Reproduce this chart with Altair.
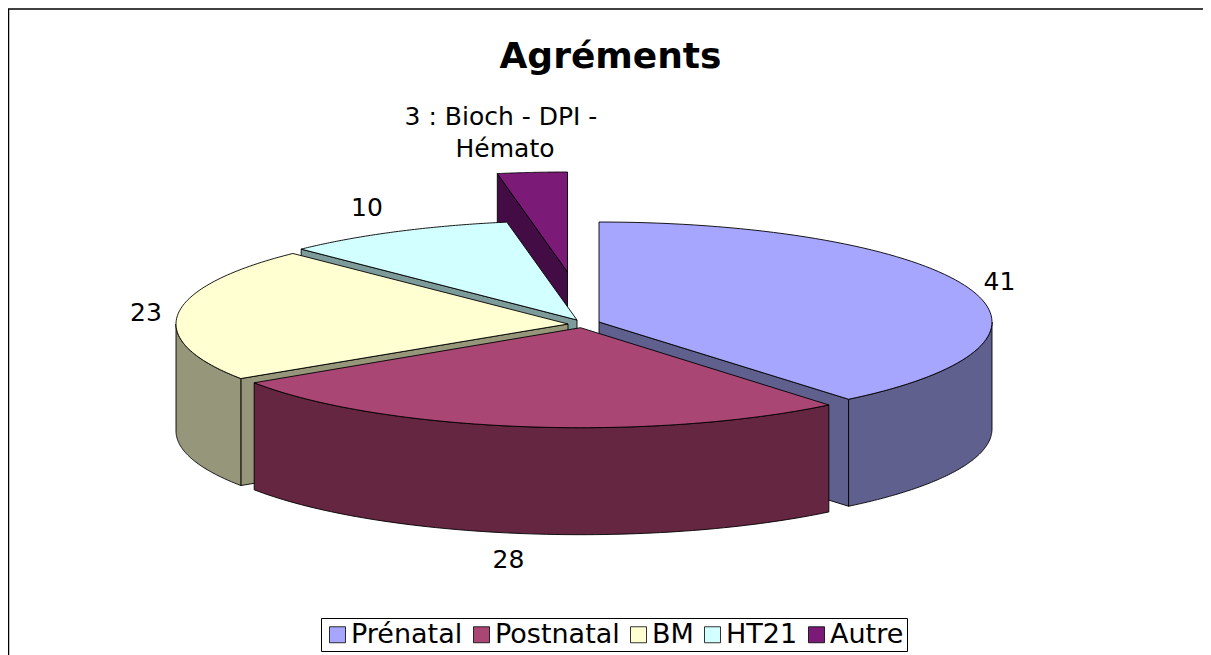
import math
import altair as alt
import pandas as pd

categories = ["Prénatal", "Postnatal", "BM", "HT21", "Autre"]
values = [41, 28, 23, 10, 3]
top_colors = ["#a6a6ff", "#aa4674", "#ffffd2", "#d2ffff", "#7c1a78"]
wall_colors = ["#60608f", "#642640", "#96967a", "#7d9b9b", "#440c44"]

# pie geometry, in picture pixels: apex x, apex y, radius x, radius y
apex_x = [599, 580.5, 568, 577, 567.5]
apex_y = [322, 327.7, 324, 320, 272]
radius_x = [393, 391, 392, 393, 393]
radius_y = [100, 100, 99, 99.5, 100]
depth = 107

total = sum(values)
starts = [sum(values[:i]) / total * 2 * math.pi for i in range(len(values))]
ends = [sum(values[:i + 1]) / total * 2 * math.pi for i in range(len(values))]


def arc(i, t0, t1, dy=0.0, n=80):
    out = []
    for k in range(n + 1):
        t = t0 + (t1 - t0) * k / n
        out.append((apex_x[i] + radius_x[i] * math.sin(t),
                    apex_y[i] - radius_y[i] * math.cos(t) + dy))
    return out


def apex(i, dy=0.0):
    return (apex_x[i], apex_y[i] + dy)


def top_face(i):
    return [apex(i)] + arc(i, starts[i], ends[i])


def outer_wall(i, t0, t1):
    return arc(i, t0, t1) + arc(i, t0, t1, depth)[::-1]


def cut_wall(i, t):
    p = arc(i, t, t, n=1)[0]
    return [apex(i), p, (p[0], p[1] + depth), apex(i, depth)]


x_scale = alt.Scale(domain=[8, 1203], nice=False, zero=False)
y_scale = alt.Scale(domain=[8, 655], nice=False, zero=False, reverse=True)


def poly(points, fill, width=0.9):
    df = pd.DataFrame({"x": [p[0] for p in points] + [points[0][0]],
                       "y": [p[1] for p in points] + [points[0][1]]})
    df["o"] = range(len(df))
    return alt.Chart(df).mark_line(fill=fill, stroke="#000000", strokeWidth=width,
                                   strokeJoin="miter", clip=True).encode(
        x=alt.X("x:Q", scale=x_scale, axis=None),
        y=alt.Y("y:Q", scale=y_scale, axis=None),
        order=alt.Order("o:Q"),
    )


P, Q, B, H, A = range(5)
layers = [
    # Autre
    poly(cut_wall(A, starts[A]), wall_colors[A]),
    poly(top_face(A), top_colors[A]),
    # HT21
    poly(cut_wall(H, starts[H]), wall_colors[H]),
    poly(top_face(H), top_colors[H]),
    # Prénatal
    poly(cut_wall(P, ends[P]), wall_colors[P]),
    poly(outer_wall(P, math.pi / 2, ends[P]), wall_colors[P]),
    poly(top_face(P), top_colors[P]),
    # BM
    poly(cut_wall(B, starts[B]), wall_colors[B]),
    poly(outer_wall(B, starts[B], 1.5 * math.pi), wall_colors[B]),
    poly(top_face(B), top_colors[B]),
    # Postnatal
    poly(outer_wall(Q, starts[Q], ends[Q]), wall_colors[Q]),
    poly(top_face(Q), top_colors[Q]),
]

# chart frame: top and left edges only
frame_top = pd.DataFrame({"x": [8], "x2": [1203], "y": [9]})
frame_left = pd.DataFrame({"x": [8.5], "y": [9], "y2": [655]})
layers.append(alt.Chart(frame_top).mark_rule(color="#000000", strokeWidth=1.5).encode(
    x=alt.X("x:Q", scale=x_scale, axis=None), x2="x2:Q",
    y=alt.Y("y:Q", scale=y_scale, axis=None)))
layers.append(alt.Chart(frame_left).mark_rule(color="#000000", strokeWidth=1.5).encode(
    x=alt.X("x:Q", scale=x_scale, axis=None),
    y=alt.Y("y:Q", scale=y_scale, axis=None), y2="y2:Q"))

# value labels
label_df = pd.DataFrame({
    "t": ["41", "28", "23", "10", "3 : Bioch - DPI -", "Hémato"],
    "x": [999.5, 508.5, 146, 367, 501, 505],
    "y": [290, 568, 321, 216, 125, 157],
})
layers.append(alt.Chart(label_df).mark_text(
    font="DejaVu Sans", fontSize=25, color="#000000", baseline="alphabetic", align="center"
).encode(
    x=alt.X("x:Q", scale=x_scale, axis=None),
    y=alt.Y("y:Q", scale=y_scale, axis=None),
    text="t:N"))

# legend
legend_df = pd.DataFrame({"c": categories, "x": [100] * 5, "y": [100] * 5})
layers.append(alt.Chart(legend_df).mark_square(opacity=0).encode(
    x=alt.X("x:Q", scale=x_scale, axis=None),
    y=alt.Y("y:Q", scale=y_scale, axis=None),
    color=alt.Color("c:N", scale=alt.Scale(domain=categories, range=top_colors),
                    legend=alt.Legend(
                        title=None, orient="none", legendX=313, legendY=610,
                        direction="horizontal", columns=5, columnPadding=5,
                        symbolType="square", symbolSize=256, symbolOpacity=1,
                        symbolStrokeColor="#000000", symbolStrokeWidth=0.8,
                        labelFont="DejaVu Sans", labelFontSize=27, labelColor="#000000",
                        labelOffset=0, labelLimit=300, padding=3,
                        strokeColor="#000000", fillColor="#ffffff"))))

chart = alt.layer(*layers).properties(
    width=1195, height=647,
    padding=0,
    autosize=alt.AutoSizeParams(type="none"),
    title=alt.TitleParams("Agréments", font="DejaVu Sans", fontSize=36, fontWeight="bold",
                          color="#000000", anchor="middle", frame="group",
                          baseline="alphabetic", offset=-96, dx=5),
).configure_view(stroke=None)

chart.save("out.html", embed_options={"renderer": "svg", "actions": False})
